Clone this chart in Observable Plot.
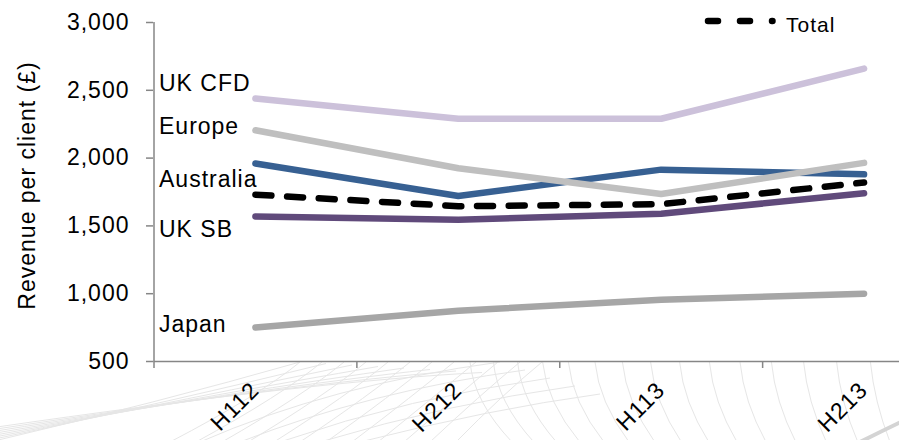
<!DOCTYPE html>
<html>
<head>
<meta charset="utf-8">
<script src="https://cdn.jsdelivr.net/npm/d3@7"></script>
<script src="https://cdn.jsdelivr.net/npm/@observablehq/plot@0.6"></script>
<style>
  body { margin: 0; background: #fff; }
  #chart { position: relative; width: 899px; height: 440px; overflow: hidden; background: #fff; }
  #chart svg text { letter-spacing: 1px; }
  #legend { position: absolute; left: 0; top: 0; }
  #legend text { letter-spacing: -0.6px; }
</style>
</head>
<body>
<div id="chart"></div>
<script>
// Half-year periods on the category axis
const periods = ["H112", "H212", "H113", "H213"];

// Revenue per client (£) by region
const ukCfd     = [2440, 2290, 2290, 2660];
const europe    = [2205, 1925, 1735, 1965];
const australia = [1960, 1720, 1915, 1880];
const ukSb      = [1570, 1545, 1590, 1740];
const japan     = [750, 875, 955, 1000];
const total     = [1730, 1645, 1660, 1820];

const yTicks = [500, 1000, 1500, 2000, 2500, 3000];

// Drawing order, colour and label nudge (px) for each region line
const regions = [
  { name: "UK CFD",    values: ukCfd,     color: "#ccc1da", labelDy: -15 },
  { name: "UK SB",     values: ukSb,      color: "#604a7b", labelDy: 13 },
  { name: "Australia", values: australia, color: "#376092", labelDy: 16 },
  { name: "Europe",    values: europe,    color: "#bfbfbf", labelDy: -4 },
  { name: "Japan",     values: japan,     color: "#a6a6a6", labelDy: -3 }
];

const rows = s => s.values.map((v, i) => ({ name: s.name, i, v }));
const totalRows = rows({ name: "Total", values: total });

const axisColor = "#868686";
const font = "'Liberation Sans', Arial, sans-serif";

const chart = Plot.plot({
  width: 899,
  height: 440,
  marginLeft: 153,
  marginRight: 0,
  marginTop: 22,
  marginBottom: 79,
  style: { fontFamily: font, background: "transparent", color: "#000" },
  x: { type: "linear", domain: [-0.5, 3.5], range: [153.5, 965] },
  y: { domain: [500, 3000], range: [361, 22] },
  marks: [
    // axis lines
    Plot.ruleX([-0.5], { y1: 500, y2: 3000, stroke: axisColor, strokeWidth: 1.5 }),
    Plot.ruleY([500], { x1: -0.5, x2: 3.5, stroke: axisColor, strokeWidth: 1.5 }),
    // y axis ticks and labels
    Plot.axisY({
      ticks: yTicks, tickSize: 7, tickPadding: 17, label: null,
      tickFormat: d3.format(","), fontSize: 23, stroke: axisColor, fill: "#000", strokeWidth: 1.5
    }),
    // x tick marks between categories
    Plot.axisX({
      ticks: periods.map((_, i) => i - 0.5), tickSize: 7, label: null,
      tickFormat: () => "", stroke: axisColor, strokeWidth: 1.5
    }),
    // rotated category labels
    Plot.text(periods, {
      x: (d, i) => i, frameAnchor: "bottom", rotate: -45, textAnchor: "end",
      dx: 5, dy: 30, fontSize: 23, fill: "#000"
    }),
    // y axis title
    Plot.text(["Revenue per client (£)"], {
      frameAnchor: "left", rotate: -90, textAnchor: "middle",
      dx: -126, dy: -6.5, fontSize: 23, fill: "#000"
    }),
    // region lines
    ...regions.map(s => Plot.line(rows(s), {
      x: "i", y: "v", stroke: s.color, strokeWidth: 6.5,
      strokeLinejoin: "round", strokeLinecap: "round"
    })),
    // total (dashed)
    Plot.line(totalRows, {
      x: "i", y: "v", stroke: "#000", strokeWidth: 6.5,
      strokeDasharray: "16,15.7", strokeLinecap: "round", strokeLinejoin: "round"
    }),
    // region names beside the first point
    ...regions.map(s => Plot.text([s], {
      x: () => -0.5, y: d => d.values[0], text: d => d.name,
      textAnchor: "start", dx: 5, dy: s.labelDy, fontSize: 23, fill: "#000"
    }))
  ]
});

// Faint decorative mesh along the bottom strip
const mesh = d3.select(chart).insert("g", ":first-child")
  .attr("fill", "none").attr("stroke", "#e6e6e6").attr("stroke-width", 1);
const q = (x0, y0, cx, cy, x1, y1) => `M${x0},${y0}Q${cx},${cy} ${x1},${y1}`;
for (let k = 0; k < 18; k++) {
  const x0 = 470 + k * 23 + k * k * 0.4;
  const x1 = x0 + 42 - k * 1.6;
  mesh.append("path").attr("d", q(x0, 362, x0 + 4, 402, x1, 442));
}
for (let k = 0; k < 12; k++) {
  const x0 = 300 + k * 22;
  const x1 = 170 + k * 26;
  mesh.append("path").attr("d", q(x0, 362, x0 - 40, 395, x1, 442));
}
for (let k = 0; k < 8; k++) {
  mesh.append("path").attr("d", q(-10, 442 - k * 2, 160 + k * 22, 402 - k * 3, 300 + k * 26, 362 + k * 1.5));
}
for (let k = 0; k < 5; k++) {
  mesh.append("path").attr("d", q(200 + k * 40, 442, 330 + k * 40, 385 + k * 6, 500 + k * 25, 362 + k * 8));
}
mesh.append("path").attr("d", q(860, 442, 880, 432, 905, 420)).attr("stroke", "#d4d4d4").attr("stroke-width", 4);

const host = document.getElementById("chart");
host.appendChild(chart);

// Legend for the dashed total line
const legend = d3.select(host).append("svg").attr("id", "legend")
  .attr("width", 899).attr("height", 45);
legend.append("line")
  .attr("x1", 708).attr("x2", 772.5).attr("y1", 21).attr("y2", 21)
  .attr("stroke", "#000").attr("stroke-width", 6.5)
  .attr("stroke-linecap", "round").attr("stroke-dasharray", "10,22");
legend.append("text")
  .attr("x", 786).attr("y", 32).attr("font-family", font).attr("font-size", 21)
  .attr("fill", "#000").text("Total");
</script>
</body>
</html>
